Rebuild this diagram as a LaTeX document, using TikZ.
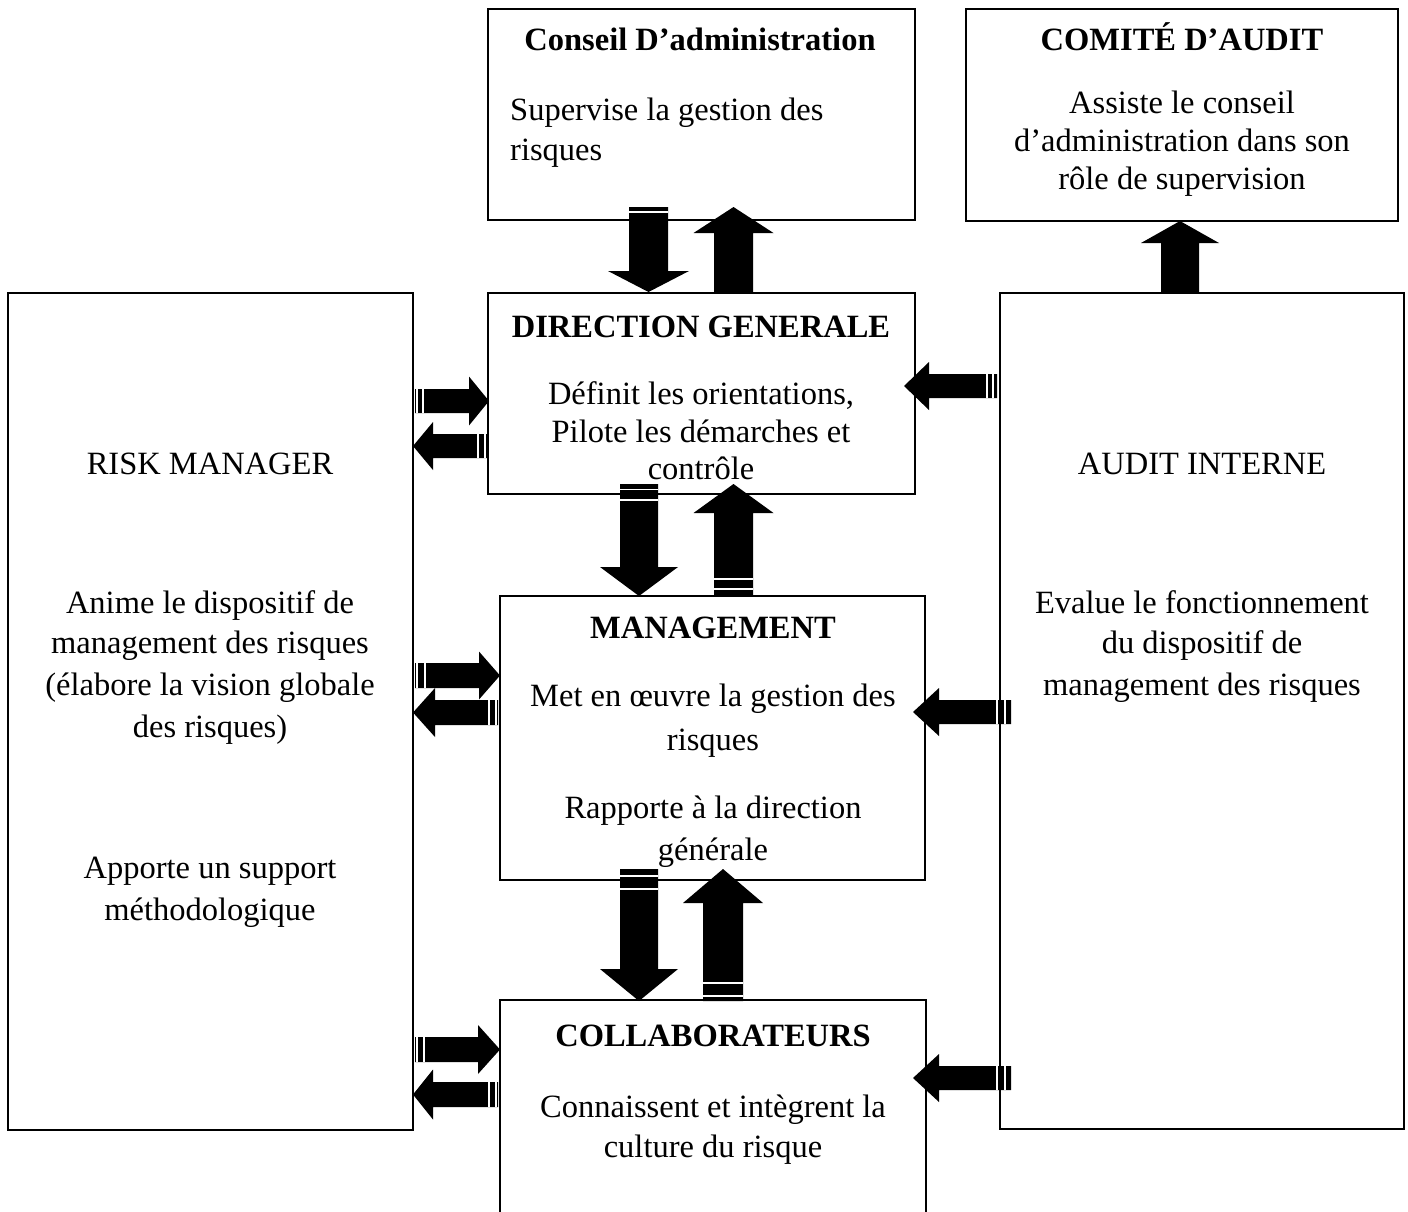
\documentclass[tikz,border=0pt]{standalone}
\usepackage{fontspec}
\setmainfont{Liberation Serif}
\newcommand{\blkv}[6]{% xc, tail, headbase, tip, shaft half, head half
  \fill[black] ({#1-#5},#2) -- ({#1+#5},#2) -- ({#1+#5},#3) -- ({#1+#6},#3) -- (#1,#4) -- ({#1-#6},#3) -- ({#1-#5},#3) -- cycle;}
\newcommand{\blkh}[6]{% yc, tail, headbase, tip, shaft half, head half
  \fill[black] (#2,{#1-#5}) -- (#3,{#1-#5}) -- (#3,{#1-#6}) -- (#4,#1) -- (#3,{#1+#6}) -- (#3,{#1+#5}) -- (#2,{#1+#5}) -- cycle;}
\newcommand{\stripev}[3]{% xc, y, half
  \draw[stripeline] ({#1-#3},#2) -- ({#1+#3},#2);}
\newcommand{\stripeh}[3]{% yc, x, half
  \draw[stripeline] (#2,{#1-#3}) -- (#2,{#1+#3});}
\begin{document}
\begin{tikzpicture}[x=1pt,y=-1pt,
  box/.style={draw=black, line width=2.8pt, inner sep=0pt, outer sep=0pt},
  txt/.style={anchor=base, inner sep=0pt, font=\fontsize{32.5}{41.5}\selectfont},
  btxt/.style={txt, font=\fontsize{32.5}{41.5}\selectfont\bfseries},
  stripeline/.style={draw=white, line width=1.6pt}]
\fill[white] (0,0) rectangle (1408,1211);
\useasboundingbox (0,0) rectangle (1408,1211);
\clip (0,0) rectangle (1408,1211);

% boxes
\node[box, minimum width=427pt, minimum height=211pt] (conseil) at (701.5,114.5) {};
\node[box, minimum width=432pt, minimum height=212pt] (comite) at (1182,115) {};
\node[box, minimum width=427pt, minimum height=201pt] (direction) at (701.5,393.5) {};
\node[box, minimum width=405pt, minimum height=837pt] (risk) at (210.5,711.5) {};
\node[box, minimum width=404pt, minimum height=836pt] (audit) at (1202,711) {};
\node[box, minimum width=425pt, minimum height=284pt] (management) at (712.5,738) {};
\node[box, minimum width=426pt, minimum height=240pt] (collab) at (713,1120) {};

% texts
\node[btxt] (t1) at (700,50) {Conseil D’administration};
\node[txt, anchor=base west] (t2) at (510,120) {Supervise la gestion des};
\node[txt, anchor=base west] (t3) at (510,160) {risques};

\node[btxt] (t4) at (1182,50) {COMITÉ D’AUDIT};
\node[txt] (t5) at (1182,113) {Assiste le conseil};
\node[txt] (t6) at (1182,151) {d’administration dans son};
\node[txt] (t7) at (1182,189) {rôle de supervision};

\node[btxt] (t8) at (701,337) {DIRECTION GENERALE};
\node[txt] (t9) at (701,404) {Définit les orientations,};
\node[txt] (t10) at (701,442) {Pilote les démarches et};
\node[txt] (t11) at (701,479) {contrôle};

\node[txt] (t12) at (210,474) {RISK MANAGER};
\node[txt] (t13) at (210,613) {Anime le dispositif de};
\node[txt] (t14) at (210,653) {management des risques};
\node[txt] (t15) at (210,695) {(élabore la vision globale};
\node[txt] (t16) at (210,737) {des risques)};
\node[txt] (t17) at (210,878) {Apporte un support};
\node[txt] (t18) at (210,920) {méthodologique};

\node[txt] (t19) at (1202,474) {AUDIT INTERNE};
\node[txt] (t20) at (1202,613) {Evalue le fonctionnement};
\node[txt] (t21) at (1202,653) {du dispositif de};
\node[txt] (t22) at (1202,695) {management des risques};

\node[btxt] (t23) at (713,638) {MANAGEMENT};
\node[txt] (t24) at (713,706) {Met en œuvre la gestion des};
\node[txt] (t25) at (713,750) {risques};
\node[txt] (t26) at (713,818) {Rapporte à la direction};
\node[txt] (t27) at (713,860) {générale};

\node[btxt] (t28) at (713,1046) {COLLABORATEURS};
\node[txt] (t29) at (713,1117) {Connaissent et intègrent la};
\node[txt] (t30) at (713,1157) {culture du risque};

% vertical arrows
\blkv{648.5}{207}{271}{292}{19.5}{40.5}
\stripev{648.5}{212}{19.5}
\blkv{733.5}{292}{233}{207}{19.5}{40}

\blkv{639}{484}{567}{596}{19}{39}
\stripev{639}{489.5}{19}
\stripev{639}{500}{19}
\blkv{733.5}{596}{513}{484}{19.5}{40}
\stripev{733.5}{579}{19.5}
\stripev{733.5}{589}{19.5}

\blkv{639}{869}{969}{1001}{19}{39}
\stripev{639}{876}{19}
\stripev{639}{889}{19}
\blkv{723}{1001}{903}{869}{20}{40}
\stripev{723}{983}{20}
\stripev{723}{996}{20}

\blkv{1180}{293}{243}{221}{19}{39}

% horizontal arrows, left side
\blkh{401}{415}{469}{489}{12}{24.5}
\stripeh{401}{417}{12}
\stripeh{401}{423}{12}
\blkh{446}{487}{433}{413}{12}{24}
\stripeh{446}{478}{12}
\stripeh{446}{485}{12}

\blkh{675.5}{415}{479}{500}{12.5}{24}
\stripeh{675.5}{417}{12.5}
\stripeh{675.5}{425}{12.5}
\blkh{712.5}{498}{435}{413}{12.5}{24.5}
\stripeh{712.5}{489}{12.5}
\stripeh{712.5}{496}{12.5}

\blkh{1049.5}{415}{478}{500}{12.5}{24.5}
\stripeh{1049.5}{417}{12.5}
\stripeh{1049.5}{424}{12.5}
\blkh{1094.5}{498}{433}{413}{12.5}{25}
\stripeh{1094.5}{489}{12.5}
\stripeh{1094.5}{496}{12.5}

% horizontal arrows, right side
\blkh{386}{997}{929}{904}{12}{24}
\stripeh{386}{987}{12}
\stripeh{386}{993}{12}
\blkh{712}{1011}{939}{913}{12}{24}
\stripeh{712}{997}{12}
\stripeh{712}{1005}{12}
\blkh{1078}{1011}{939}{913}{12}{24}
\stripeh{1078}{997}{12}
\stripeh{1078}{1005}{12}
\end{tikzpicture}
\end{document}
